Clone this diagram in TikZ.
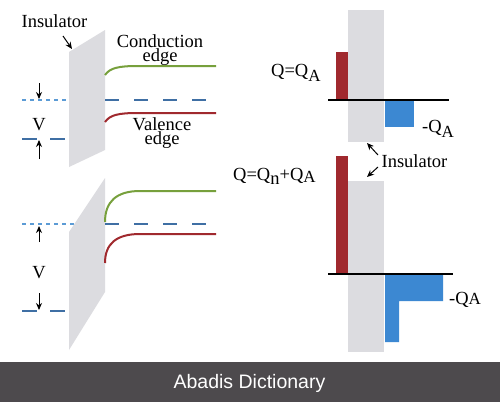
\documentclass[tikz,border=0pt]{standalone}
\usepackage{fontspec}
\setmainfont{Liberation Serif}
\newfontfamily\bannerfont{Liberation Sans}
\usetikzlibrary{arrows.meta}
\definecolor{slabgray}{HTML}{DCDCE0}
\definecolor{condgreen}{HTML}{77A03C}
\definecolor{valred}{HTML}{A0292E}
\definecolor{lightblue}{HTML}{5B9BD5}
\definecolor{darkblue}{HTML}{3F6FA4}
\definecolor{barblue}{HTML}{3C88D2}
\definecolor{bannergray}{HTML}{4D4A4D}
\tikzset{
  lbl/.style={inner sep=0pt, font=\fontsize{18.5}{20}\selectfont},
  twoline/.style={inner sep=0pt, align=center, font=\fontsize{18.5}{13}\selectfont},
  band/.style={line width=2pt},
  fermidot/.style={lightblue, line width=1.5pt, dash pattern=on 4pt off 4pt},
  fermilong/.style={darkblue, line width=1.5pt, dash pattern=on 14pt off 15pt},
  fermimetal/.style={darkblue, line width=1.5pt, dash pattern=on 15pt off 13pt},
  arr/.style={-{Stealth[length=7pt,width=6pt]}, line width=1pt},
  slab/.style={fill=slabgray, draw=none},
  axis/.style={line width=1.3pt},
}
\newcommand{\sbA}[1]{\raisebox{-0.28em}{\fontsize{17}{18}\selectfont #1}}
\begin{document}
\begin{tikzpicture}[x=1pt,y=-1pt]
\useasboundingbox (0,0) rectangle (500,402);
\fill[white] (0,0) rectangle (500,402);

% ---------- top left panel ----------
\draw[fermidot] (22,100) -- (68,100);
\draw[fermimetal] (22,139) -- (65,139);
\path[slab] (69,52) -- (105,30) -- (105,150) -- (69,167) -- cycle;
\draw[fermilong] (105,100) -- (216,100);
\draw[band, condgreen] (105,75) .. controls (110,68) and (118,66) .. (138,66) -- (216,66);
\draw[band, valred] (105,122) .. controls (110,115) and (118,113) .. (138,113) -- (216,113);

\node[lbl, anchor=base] (ins1) at (54.5,27) {Insulator};
\coordinate (ins1tip) at (72,49);
\draw[arr] (63,36) -- (ins1tip);
\node[twoline, anchor=north] (cond) at (160,34.3) {Conduction\\edge};
\node[twoline, anchor=north] (val) at (162,117.3) {Valence\\edge};
\node[lbl, anchor=base] (V1) at (39,130) {V};
\coordinate (v1a) at (39,83);
\coordinate (v1b) at (39,99);
\coordinate (v1c) at (39,159);
\coordinate (v1d) at (39,140);
\draw[arr] (v1a) -- (v1b);
\draw[arr] (v1c) -- (v1d);

% ---------- bottom left panel ----------
\draw[fermidot] (22,224) -- (76,224);
\draw[fermimetal] (22,311) -- (65,311);
\path[slab] (69,232) -- (105,178) -- (105,292) -- (69,350) -- cycle;
\draw[fermilong] (105,224) -- (216,224);
\draw[band, condgreen] (105,222) .. controls (105,202) and (116,191) .. (140,191) -- (216,191);
\draw[band, valred] (105,263) .. controls (105,244) and (116,234) .. (140,234) -- (216,234);

\node[lbl, anchor=base] (V2) at (39,278) {V};
\coordinate (v2a) at (39,242);
\coordinate (v2b) at (39,226);
\coordinate (v2c) at (39,293);
\coordinate (v2d) at (39,310);
\draw[arr] (v2a) -- (v2b);
\draw[arr] (v2c) -- (v2d);

% ---------- top right panel ----------
\path[slab] (348,10) rectangle (384,142);
\fill[valred] (336,52) rectangle (348,100);
\fill[barblue] (385,100) rectangle (414,127);
\coordinate (ax1l) at (328,100);
\coordinate (ax1r) at (449,100);
\draw[axis] (ax1l) -- (ax1r);
\node[lbl, anchor=base west] (q1) at (271,76) {Q=Q\sbA{A}};
\node[lbl, anchor=base west] (mq1) at (422,132) {-Q\sbA{A}};

% ---------- insulator label right ----------
\node[lbl, anchor=base] (ins2) at (414.5,167) {Insulator};
\coordinate (ins2up) at (367,143);
\coordinate (ins2dn) at (367,177);
\draw[arr] (378,155) -- (ins2up);
\draw[arr] (378,167) -- (ins2dn);

% ---------- bottom right panel ----------
\path[slab] (348,181) rectangle (384,352);
\fill[valred] (336,156) rectangle (348,274);
\fill[barblue] (385,274) -- (443,274) -- (443,301) -- (399,301) -- (399,342) -- (385,342) -- cycle;
\coordinate (ax2l) at (328,274);
\coordinate (ax2r) at (453,274);
\draw[axis] (ax2l) -- (ax2r);
\node[lbl, anchor=base west] (q2) at (233,180) {Q=Q\raisebox{-0.22em}{n}+Q\raisebox{-0.15em}{\fontsize{17}{18}\selectfont A}};
\node[lbl, anchor=base west] (mq2) at (449,304) {-Q{\fontsize{17}{18}\selectfont A}};

% ---------- banner ----------
\fill[bannergray] (0,362) rectangle (500,402);
\node[inner sep=0pt, anchor=base, text=white, font=\bannerfont\fontsize{19.5}{22}\selectfont] (banner) at (249.5,388) {Abadis Dictionary};
\end{tikzpicture}
\end{document}
